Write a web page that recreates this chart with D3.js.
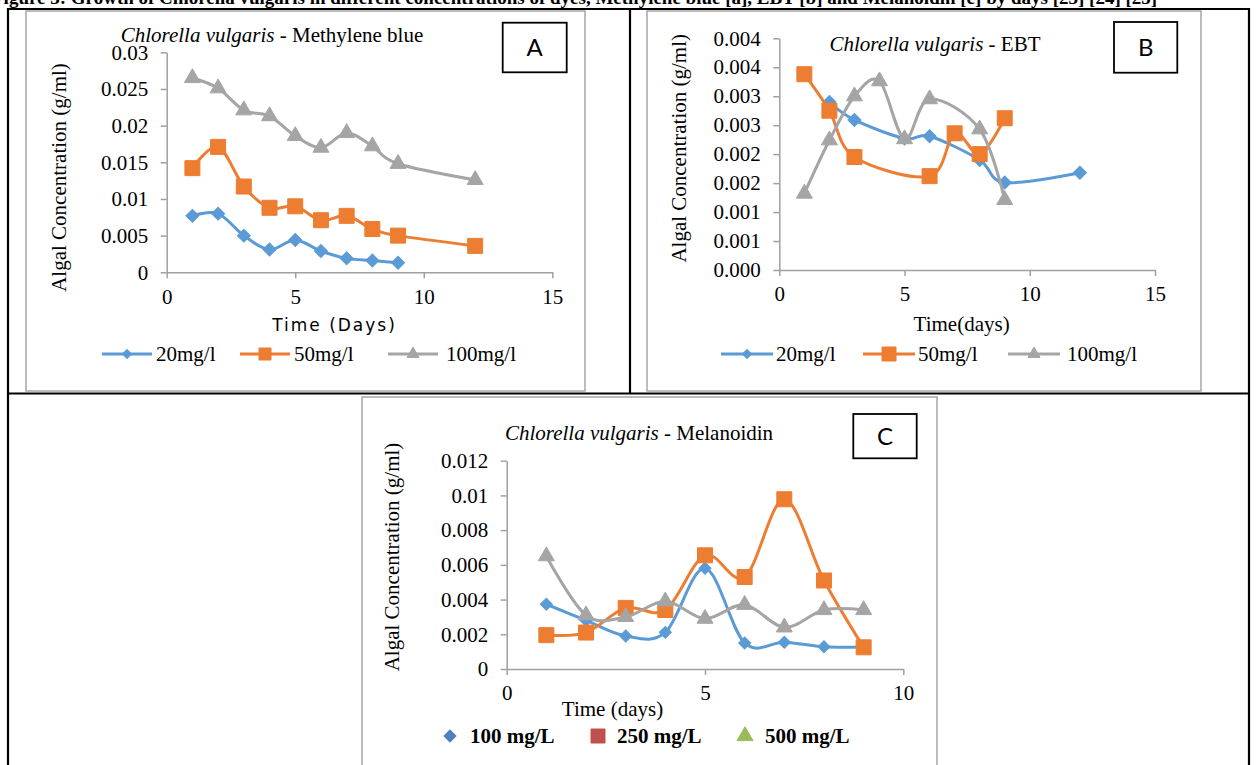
<!DOCTYPE html>
<html>
<head>
<meta charset="utf-8">
<script src="https://cdn.jsdelivr.net/npm/d3@7"></script>
<style>
    body { margin: 0; background: #fff; }
    svg { display: block; }
</style>
</head>
<body>
<div id="graph1"></div>
<script>
// ---- data ----

// A: Chlorella vulgaris - Methylene blue
var mbDays = [1, 2, 3, 4, 5, 6, 7, 8, 9, 12];
var mb20 = [0.0077, 0.0080, 0.0050, 0.0031, 0.0044, 0.0029, 0.0019, 0.0016, 0.0013];
var mb50 = [0.0142, 0.0171, 0.0117, 0.0088, 0.0090, 0.0071, 0.0077, 0.0059, 0.0050, 0.0036];
var mb100 = [0.0265, 0.0251, 0.0221, 0.0213, 0.0186, 0.0170, 0.0190, 0.0172, 0.0148, 0.0126];
var mbYTicks = [0, 0.005, 0.01, 0.015, 0.02, 0.025, 0.03];
var mbYLabels = ["0", "0.005", "0.01", "0.015", "0.02", "0.025", "0.03"];

// B: Chlorella vulgaris - EBT (series do not share the same days)
var ebt20Days = [2, 3, 5, 6, 8, 9, 12];
var ebt20 = [0.00290, 0.00259, 0.00227, 0.00231, 0.00190, 0.00151, 0.00168];
var ebt50Days = [1, 2, 3, 6, 7, 8, 9];
var ebt50 = [0.00338, 0.00275, 0.00195, 0.00162, 0.00236, 0.00200, 0.00262];
var ebt100Days = [1, 2, 3, 4, 5, 6, 8, 9];
var ebt100 = [0.00132, 0.00224, 0.00300, 0.00326, 0.00226, 0.00295, 0.00243, 0.00121];
var ebtYTicks = [0, 0.0005, 0.001, 0.0015, 0.002, 0.0025, 0.003, 0.0035, 0.004];
var ebtYLabels = ["0.000", "0.001", "0.001", "0.002", "0.002", "0.003", "0.003", "0.004", "0.004"];

// C: Chlorella vulgaris - Melanoidin
var melDays = [1, 2, 3, 4, 5, 6, 7, 8, 9];
var mel100 = [0.00373, 0.0028, 0.0019, 0.00211, 0.0058, 0.0015, 0.00154, 0.00128, 0.00127];
var mel250 = [0.00195, 0.0021, 0.00352, 0.0034, 0.00655, 0.0053, 0.00978, 0.0051, 0.00125];
var mel500 = [0.0065, 0.0031, 0.0030, 0.0039, 0.0029, 0.0037, 0.0024, 0.0034, 0.0034];
var melYTicks = [0, 0.002, 0.004, 0.006, 0.008, 0.01, 0.012];
var melYLabels = ["0", "0.002", "0.004", "0.006", "0.008", "0.01", "0.012"];

var xTicks15 = [0, 5, 10, 15];
var xTicks10 = [0, 5, 10];

var legendA = ["20mg/l", "50mg/l", "100mg/l"];
var legendC = ["100 mg/L", "250 mg/L", "500 mg/L"];

// ---- drawing ----
var serif = "'Liberation Serif', 'Times New Roman', serif";
var blue = "#5B9BD5", orange = "#ED7D31", gray = "#A5A5A5";
var axisColor = "#A0A0A0";

var svg = d3.select("#graph1")
    .append("svg")
    .attr("width", 1258)
    .attr("height", 765);

// caption of the figure, cut off at the top edge
svg.append("text")
    .attr("x", -8)
    .attr("y", 4)
    .style("font-family", serif)
    .style("font-weight", "bold")
    .style("font-size", "19px")
    .text("Figure 3: Growth of Chlorella vulgaris in different concentrations of dyes, Methylene blue [a], EBT [b] and Melanoidin [c] by days [23] [24] [25]");

var markerPath = function (shape, size) {
    if (shape == "diamond") return d3.symbol(d3.symbolSquare, size * size / 2)();
    if (shape == "square") return d3.symbol(d3.symbolSquare, size * size)();
    return d3.symbol(d3.symbolTriangle, Math.sqrt(3) / 4 * size * size)();
};

var zip = function (days, vals) {
    return vals.map(function (v, i) { return {day: days[i], value: v}; });
};

var drawPanel = function (p) {
    var g = svg.append("g");

    // chart area frame
    g.append("rect")
        .attr("x", p.frame[0]).attr("y", p.frame[1])
        .attr("width", p.frame[2] - p.frame[0])
        .attr("height", p.frame[3] - p.frame[1])
        .attr("fill", "#fff")
        .attr("stroke", "#A6A6A6")
        .attr("stroke-width", 1.5);

    var x = d3.scaleLinear().domain([0, d3.max(p.xTicks)]).range([p.plot[0], p.plot[1]]);
    var y = d3.scaleLinear().domain([0, d3.max(p.yTicks)]).range([p.plot[3], p.plot[2]]);

    var gx = g.append("g")
        .attr("transform", "translate(0," + p.plot[3] + ")")
        .call(d3.axisBottom(x).tickValues(p.xTicks).tickSize(6).tickSizeOuter(0).tickPadding(10.5));
    var gy = g.append("g")
        .attr("transform", "translate(" + p.plot[0] + ",0)")
        .call(d3.axisLeft(y).tickValues(p.yTicks).tickSize(6).tickSizeOuter(0).tickPadding(12.5)
            .tickFormat(function (d, i) { return p.yLabels[i]; }));

    [gx, gy].forEach(function (a) {
        a.select(".domain").attr("stroke", axisColor).attr("stroke-width", 1.5);
        a.selectAll(".tick line").attr("stroke", axisColor).attr("stroke-width", 1.5);
        a.selectAll("text")
            .style("font-family", serif)
            .style("font-size", "21px")
            .attr("fill", "#000");
    });

    // the lines (excel "smoothed line")
    var line = d3.line()
        .x(function (d) { return x(d.day); })
        .y(function (d) { return y(d.value); })
        .curve(d3.curveCardinal.tension(0));

    p.series.forEach(function (s) {
        var pts = zip(s.days, s.values);
        g.append("path")
            .attr("d", line(pts))
            .attr("fill", "none")
            .attr("stroke", s.color)
            .attr("stroke-width", 3);
        g.selectAll(null)
            .data(pts)
            .enter()
            .append("path")
            .attr("d", markerPath(s.shape, s.size))
            .attr("transform", function (d) {
                return "translate(" + x(d.day) + "," + y(d.value) + ")" + (s.shape == "diamond" ? " rotate(45)" : "");
            })
            .attr("fill", s.color)
            .attr("stroke", s.color)
            .attr("stroke-width", 1);
    });

    // title with the italic species name
    var t = g.append("text")
        .attr("x", p.title[0]).attr("y", p.title[1])
        .attr("text-anchor", "middle")
        .style("font-family", serif)
        .style("font-size", "21px");
    t.append("tspan").style("font-style", "italic").text("Chlorella vulgaris");
    t.append("tspan").text(" - " + p.titleText);

    // axis titles
    g.append("text")
        .attr("transform", "translate(" + p.yTitle[0] + "," + p.yTitle[1] + ") rotate(-90)")
        .attr("text-anchor", "middle")
        .style("font-family", serif)
        .style("font-size", "21px")
        .text("Algal Concentration (g/ml)");
    g.append("text")
        .attr("x", p.xTitle[0]).attr("y", p.xTitle[1])
        .attr("text-anchor", "middle")
        .style("font-family", p.xTitleFont)
        .style("font-size", p.xTitleSize)
        .style("letter-spacing", p.xTitleSpacing)
        .text(p.xTitleText);

    // panel letter box
    g.append("rect")
        .attr("x", p.box[0]).attr("y", p.box[1])
        .attr("width", p.box[2] - p.box[0]).attr("height", p.box[3] - p.box[1])
        .attr("fill", "#fff")
        .attr("stroke", "#000")
        .attr("stroke-width", 1.8);
    g.append("text")
        .attr("x", (p.box[0] + p.box[2]) / 2)
        .attr("y", (p.box[1] + p.box[3]) / 2 + 8.5)
        .attr("text-anchor", "middle")
        .style("font-family", "Lato, 'Open Sans', sans-serif")
        .style("font-size", "24px")
        .text(p.letter);

    // legend
    p.legend.forEach(function (l, i) {
        var s = l.series;
        if (l.line) {
            g.append("line")
                .attr("x1", l.line[0]).attr("x2", l.line[1])
                .attr("y1", p.legendY).attr("y2", p.legendY)
                .attr("stroke", s.color)
                .attr("stroke-width", 3);
        }
        g.append("path")
            .attr("d", markerPath(l.shape || s.shape, l.size))
            .attr("transform", "translate(" + l.mark + "," + p.legendY + ")" + ((l.shape || s.shape) == "diamond" ? " rotate(45)" : ""))
            .attr("fill", l.color || s.color)
            .attr("stroke", l.color || s.color);
        g.append("text")
            .attr("x", l.text)
            .attr("y", p.legendY + 7)
            .style("font-family", serif)
            .style("font-size", "21px")
            .style("font-weight", p.legendBold ? "bold" : "normal")
            .text(l.label);
    });
};

// table lines around the three cells
var table = svg.append("g").attr("stroke", "#000").attr("stroke-width", 2.2);
table.append("line").attr("x1", 8).attr("x2", 1250).attr("y1", 9).attr("y2", 9);
table.append("line").attr("x1", 8).attr("x2", 1250).attr("y1", 393.5).attr("y2", 393.5);
table.append("line").attr("x1", 8).attr("x2", 8).attr("y1", 8).attr("y2", 765);
table.append("line").attr("x1", 1249).attr("x2", 1249).attr("y1", 8).attr("y2", 765);
table.append("line").attr("x1", 630).attr("x2", 630).attr("y1", 8).attr("y2", 393.5);

var sA = [
    {days: mbDays, values: mb20, color: blue, shape: "diamond", size: 13},
    {days: mbDays, values: mb50, color: orange, shape: "square", size: 15},
    {days: mbDays, values: mb100, color: gray, shape: "triangle", size: 16}
];
drawPanel({
    frame: [26, 11, 585, 391],
    plot: [166.7, 552.3, 52.3, 272.3],
    xTicks: xTicks15, yTicks: mbYTicks, yLabels: mbYLabels,
    series: sA,
    title: [272, 42], titleText: "Methylene blue",
    yTitle: [65.5, 177.5],
    xTitle: [334.5, 331], xTitleText: "Time (Days)",
    xTitleFont: "'DejaVu Sans', Verdana, sans-serif", xTitleSize: "17px", xTitleSpacing: "2px",
    box: [502.7, 22.7, 566.7, 72.3], letter: "A",
    legendY: 354,
    legend: [
        {series: sA[0], label: legendA[0], line: [102, 152], mark: 127, text: 156, size: 9},
        {series: sA[1], label: legendA[1], line: [240, 290], mark: 265, text: 294, size: 12},
        {series: sA[2], label: legendA[2], line: [388, 438], mark: 413, text: 446, size: 12}
    ]
});

var sB = [
    {days: ebt20Days, values: ebt20, color: blue, shape: "diamond", size: 13},
    {days: ebt50Days, values: ebt50, color: orange, shape: "square", size: 15},
    {days: ebt100Days, values: ebt100, color: gray, shape: "triangle", size: 16}
];
drawPanel({
    frame: [647, 11, 1201, 391],
    plot: [779.3, 1155, 38.3, 270],
    xTicks: xTicks15, yTicks: ebtYTicks, yLabels: ebtYLabels,
    series: sB,
    title: [935, 51], titleText: "EBT",
    yTitle: [686, 148.3],
    xTitle: [961.6, 330.7], xTitleText: "Time(days)",
    xTitleFont: serif, xTitleSize: "21px", xTitleSpacing: "0px",
    box: [1114, 22, 1177.3, 72.7], letter: "B",
    legendY: 354,
    legend: [
        {series: sB[0], label: legendA[0], line: [721, 773], mark: 747, text: 776, size: 9},
        {series: sB[1], label: legendA[1], line: [863, 915], mark: 889, text: 918, size: 14},
        {series: sB[2], label: legendA[2], line: [1008, 1060], mark: 1034, text: 1067, size: 12}
    ]
});

var sC = [
    {days: melDays, values: mel100, color: blue, shape: "diamond", size: 12},
    {days: melDays, values: mel250, color: orange, shape: "square", size: 15},
    {days: melDays, values: mel500, color: gray, shape: "triangle", size: 16}
];
drawPanel({
    frame: [362, 397, 937, 780],
    plot: [506.7, 903.3, 460.7, 669],
    xTicks: xTicks10, yTicks: melYTicks, yLabels: melYLabels,
    series: sC,
    title: [639, 440], titleText: "Melanoidin",
    yTitle: [399, 557],
    xTitle: [612.5, 716], xTitleText: "Time (days)",
    xTitleFont: serif, xTitleSize: "21px", xTitleSpacing: "0px",
    box: [853.3, 414, 916.7, 458.3], letter: "C",
    legendY: 736, legendBold: true,
    legend: [
        {series: sC[0], label: legendC[0], mark: 450, text: 470, size: 12, color: "#4F81BD"},
        {series: sC[1], label: legendC[1], mark: 598, text: 617, size: 14, color: "#C0504D"},
        {series: sC[2], label: legendC[2], mark: 745, text: 765, size: 16, color: "#9BBB59"}
    ]
});
</script>
</body>
</html>
